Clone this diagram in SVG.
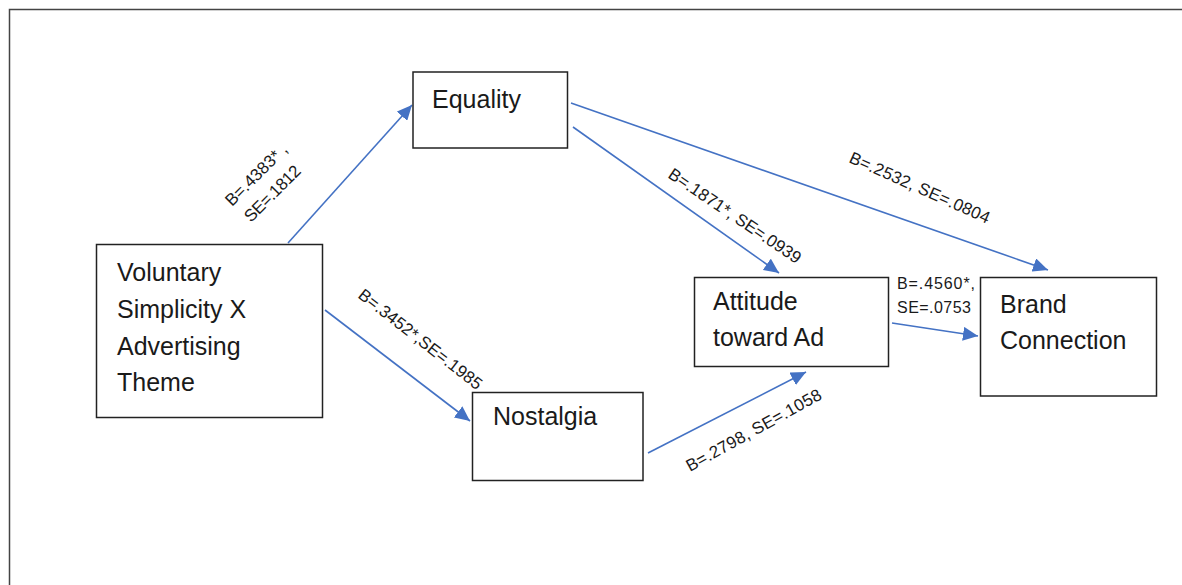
<svg xmlns="http://www.w3.org/2000/svg" width="1182" height="585" viewBox="0 0 1182 585">
<defs>
<style>
.box{fill:#fff;stroke:#222;stroke-width:1.5}
.nt{font-family:"Liberation Sans",Arial,sans-serif;font-size:25px;fill:#1a1a1a}
.lb{font-family:"Liberation Sans",Arial,sans-serif;font-size:17px;fill:#1a1a1a}
.con{stroke:#4472C4;stroke-width:1.6;fill:none;marker-end:url(#ah)}
</style>
<marker id="ah" markerUnits="userSpaceOnUse" markerWidth="16" markerHeight="14" refX="15" refY="7" orient="auto">
<path d="M0,0 L15,7 L0,14 z" fill="#4472C4"/>
</marker>
</defs>
<rect width="1182" height="585" fill="#fff"/>
<path d="M9.5,600 L9.5,9.5 L1200,9.5" fill="none" stroke="#444" stroke-width="1.5"/>
<g id="connectors">
<line class="con" x1="288" y1="243" x2="412" y2="105"/>
<line class="con" x1="325" y1="310" x2="470" y2="421"/>
<line class="con" x1="573" y1="127" x2="779" y2="273"/>
<line class="con" x1="571" y1="103" x2="1048" y2="270"/>
<line class="con" x1="648" y1="453" x2="806" y2="372"/>
<line class="con" x1="892" y1="323" x2="978" y2="336"/>
<text class="lb" transform="translate(232,207) rotate(-45)" textLength="80">B=.4383* ,</text>
<text class="lb" transform="translate(251,223) rotate(-45)" textLength="72">SE=.1812</text>
<text class="lb" transform="translate(357,297) rotate(38)" textLength="152">B=.3452*,SE=.1985</text>
<text class="lb" transform="translate(667,177) rotate(34)" textLength="156">B=.1871*, SE=.0939</text>
<text class="lb" transform="translate(848,162) rotate(24)" textLength="152">B=.2532, SE=.0804</text>
<text class="lb" transform="translate(690,472) rotate(-29)" textLength="152">B=.2798, SE=.1058</text>
<text class="lb" x="897" y="289" textLength="78" style="font-size:16px">B=.4560*,</text>
<text class="lb" x="897" y="313" textLength="74" style="font-size:16px">SE=.0753</text>
</g>
<g id="equality">
<rect class="box" x="413" y="72" width="154.5" height="76"/>
<text class="nt" x="432" y="108">Equality</text>
</g>
<g id="voluntary">
<rect class="box" x="96.5" y="244.5" width="226" height="173"/>
<text class="nt" x="117" y="281">Voluntary</text>
<text class="nt" x="117" y="318">Simplicity X</text>
<text class="nt" x="117" y="355">Advertising</text>
<text class="nt" x="117" y="391">Theme</text>
</g>
<g id="nostalgia">
<rect class="box" x="472.5" y="392.5" width="170.5" height="88"/>
<text class="nt" x="493" y="425">Nostalgia</text>
</g>
<g id="attitude">
<rect class="box" x="694.5" y="277.5" width="194" height="89"/>
<text class="nt" x="713" y="310">Attitude</text>
<text class="nt" x="713" y="346">toward Ad</text>
</g>
<g id="brand">
<rect class="box" x="980.5" y="277.5" width="176" height="118.5"/>
<text class="nt" x="1000" y="313">Brand</text>
<text class="nt" x="1000" y="349">Connection</text>
</g>
</svg>
